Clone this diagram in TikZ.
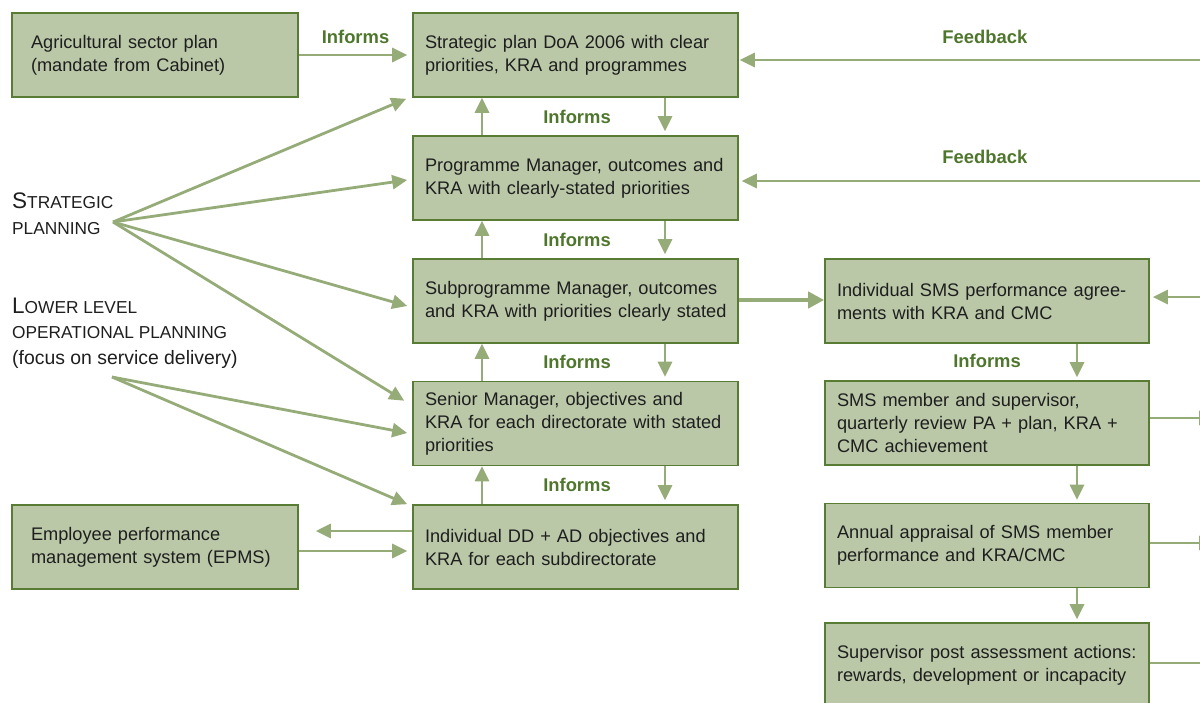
\documentclass[tikz,border=0pt]{standalone}
\usepackage{fontspec}
\setmainfont{Liberation Sans}
\usetikzlibrary{arrows.meta, positioning, calc}
\usepackage{xcolor}
\definecolor{pmFill}  {RGB}{186, 200, 168}
\definecolor{pmEdge}  {RGB}{88,  124, 52}
\definecolor{pmArrow} {RGB}{150, 172, 120}
\definecolor{pmLabel} {RGB}{78,  118, 44}
\definecolor{pmText}  {RGB}{30,  30,  30}

\newcommand{\capsm}[1]{{\fontsize{17.3}{20}\selectfont #1}}
\newcommand{\capbig}[1]{{\fontsize{22.5}{26}\selectfont #1}}

\begin{document}
\begin{tikzpicture}[x=1pt, y=-1pt,
  font=\fontsize{18.2}{23}\selectfont,
  box/.style={draw=pmEdge, line width=1.6pt, fill=pmFill, text=pmText,
    align=left, minimum height=84pt, inner ysep=4pt},
  bbox/.style={box, text width=301pt, inner xsep=12pt},
  rbox/.style={box, text width=300pt, inner xsep=12pt},
  lbox/.style={box, text width=248pt, inner xsep=19pt},
  arr/.style={draw=pmArrow, line width=2.8pt,
    -{Triangle[length=15pt, width=14pt]}},
  tag/.style={font=\bfseries\fontsize{18.4}{23}\selectfont, text=pmLabel}]

  \useasboundingbox (0,0) rectangle (1200,702);

  % ---- Left column ----
  \node[lbox] (agri) at (155,55) {Agricultural sector plan\\(mandate from Cabinet)};
  \node[lbox] (epms) at (155,547) {Employee performance\\management system (EPMS)};

  \node[anchor=north west, align=left, inner sep=0pt, text=pmText] (stratlbl) at (12,193)
    {\capbig{S}\capsm{TRATEGIC}\\[3pt]\capsm{PLANNING}};
  \node[anchor=north west, align=left, inner sep=0pt, text=pmText] (lowlbl) at (12,298)
    {\capbig{L}\capsm{OWER LEVEL}\\[2pt]\capsm{OPERATIONAL PLANNING}\\[3pt]
     {\fontsize{19.4}{23}\selectfont (focus on service delivery)}};
  \coordinate (stratfan) at (113,222);
  \coordinate (lowfan)   at (112,377);

  % ---- Middle column: planning levels ----
  \node[bbox] (sp)  at (575.5,55)    {Strategic plan DoA 2006 with clear\\priorities, KRA and programmes};
  \node[bbox] (pm)  at (575.5,178)   {Programme Manager, outcomes and\\KRA with clearly-stated priorities};
  \node[bbox] (sub) at (575.5,301)   {Subprogramme Manager, outcomes\\\mbox{and KRA with priorities clearly stated}};
  \node[bbox] (sen) at (575.5,423.5) {Senior Manager, objectives and\\KRA for each directorate with stated\\priorities};
  \node[bbox] (ind) at (575.5,547)   {Individual DD + AD objectives and\\KRA for each subdirectorate};

  % ---- Right column: SMS performance cycle ----
  \node[rbox] (pa)   at (987,301)   {Individual SMS performance agree-\\ments with KRA and CMC};
  \node[rbox] (qr)   at (987,423)   {SMS member and supervisor,\\quarterly review PA + plan, KRA +\\CMC achievement};
  \node[rbox] (aa)   at (987,545.5) {Annual appraisal of SMS member\\performance and KRA/CMC};
  \node[rbox] (post) at (987,665)   {Supervisor post assessment actions:\\rewards, development or incapacity};

  % ---- Mandate and feedback ----
  \draw[arr, shorten >=5pt] (agri.east) -- (sp.west)
    node[tag, midway, above=7pt] {Informs};
  \coordinate (fbtop) at (1212,60);
  \draw[arr, shorten >=1pt] (fbtop) -- (sp.east |- fbtop)
    node[tag, pos=0.48, above=12pt] {Feedback};
  \coordinate (fbmid) at (1212,181);
  \draw[arr, shorten >=3pt] (fbmid) -- (pm.east |- fbmid)
    node[tag, pos=0.48, above=13pt] {Feedback};

  % ---- Fans from the planning labels ----
  \draw[arr] (stratfan) -- ([xshift=-6pt, yshift=-1pt]sp.south west);
  \draw[arr] (stratfan) -- ([xshift=-5pt, yshift=-2pt]pm.west);
  \draw[arr] (stratfan) -- ([xshift=-5pt, yshift=-5pt]sub.west);
  \draw[arr] (stratfan) -- ([xshift=-8pt, yshift=-20pt]sen.north west);
  \draw[arr] (lowfan) -- ([xshift=-5pt, yshift=-9.5pt]sen.west);
  \draw[arr] (lowfan) -- ([xshift=-5pt]ind.north west);

  % ---- Informs links between levels ----
  \draw[arr] ([xshift=-93.5pt]pm.north) -- ([xshift=-93.5pt]sp.south);
  \draw[arr, shorten >=4pt] ([xshift=89.5pt]sp.south) -- ([xshift=89.5pt]pm.north);
  \path (sp.south) -- (pm.north) node[tag, midway, xshift=1.5pt] {Informs};

  \draw[arr] ([xshift=-93.5pt]sub.north) -- ([xshift=-93.5pt]pm.south);
  \draw[arr, shorten >=4pt] ([xshift=89.5pt]pm.south) -- ([xshift=89.5pt]sub.north);
  \path (pm.south) -- (sub.north) node[tag, midway, xshift=1.5pt] {Informs};

  \draw[arr] ([xshift=-93.5pt]sen.north) -- ([xshift=-93.5pt]sub.south);
  \draw[arr, shorten >=4pt] ([xshift=89.5pt]sub.south) -- ([xshift=89.5pt]sen.north);
  \path (sub.south) -- (sen.north) node[tag, midway, xshift=1.5pt] {Informs};

  \draw[arr] ([xshift=-93.5pt]ind.north) -- ([xshift=-93.5pt]sen.south);
  \draw[arr, shorten >=4pt] ([xshift=89.5pt]sen.south) -- ([xshift=89.5pt]ind.north);
  \path (sen.south) -- (ind.north) node[tag, midway, xshift=1.5pt] {Informs};

  % ---- Individual level and EPMS ----
  \draw[arr, shorten >=17pt] ([yshift=16pt]ind.west) -- ([yshift=16pt]epms.east);
  \draw[arr, shorten >=5pt] ([yshift=-4pt]epms.east) -- ([yshift=-4pt]ind.west);

  % ---- Into the SMS cycle ----
  \draw[arr, line width=4pt, -{Triangle[length=16pt, width=16pt]}] ([yshift=1pt]sub.east) -- ([yshift=1pt]pa.west);
  \coordinate (pain) at (1212,297);
  \draw[arr, shorten >=3pt] (pain) -- (pa.east |- pain);

  \draw[arr, shorten >=3pt] ([xshift=90pt]pa.south) -- ([xshift=90pt]qr.north);
  \path (pa.south) -- (qr.north) node[tag, midway, yshift=1pt] {Informs};
  \draw[arr, shorten >=3pt] ([xshift=90pt]qr.south) -- ([xshift=90pt]aa.north);
  \draw[arr, shorten >=3pt] ([xshift=90pt]aa.south) -- ([xshift=90pt]post.north);

  % ---- Out to the right edge ----
  \coordinate (qrout)   at (1214,418);
  \coordinate (aaout)   at (1214,543);
  \coordinate (postout) at (1240,663);
  \draw[arr] (qr.east |- qrout) -- (qrout);
  \draw[arr] (aa.east |- aaout) -- (aaout);
  \draw[arr] (post.east |- postout) -- (postout);
\end{tikzpicture}
\end{document}
